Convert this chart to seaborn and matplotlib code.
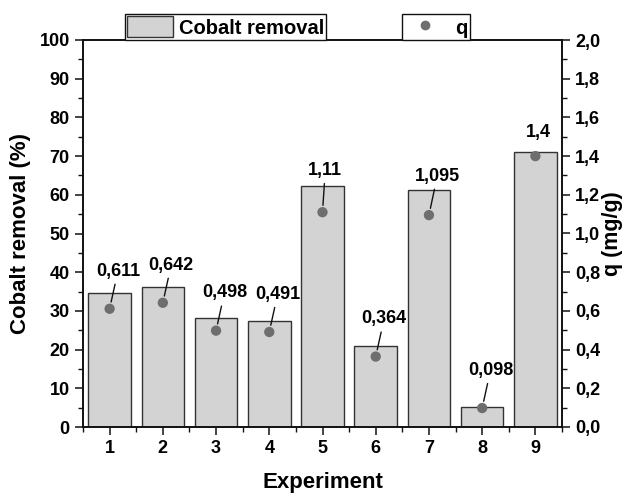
import matplotlib
matplotlib.use("Agg")
import matplotlib.pyplot as plt
import seaborn as sns
import pandas as pd
from matplotlib.ticker import MultipleLocator, FuncFormatter
from matplotlib.patches import Patch
from matplotlib.lines import Line2D

experiments = [1, 2, 3, 4, 5, 6, 7, 8, 9]
cobalt_removal = [34.7, 36.2, 28.1, 27.4, 62.2, 20.9, 61.2, 5.2, 71.0]
q_values = [0.611, 0.642, 0.498, 0.491, 1.11, 0.364, 1.095, 0.098, 1.4]
q_labels = ["0,611", "0,642", "0,498", "0,491", "1,11", "0,364", "1,095", "0,098", "1,4"]

df = pd.DataFrame({"Experiment": experiments, "removal": cobalt_removal, "q": q_values})

sns.set_style("ticks")
plt.rcParams['font.family'] = ['Liberation Sans', 'DejaVu Sans']
plt.rcParams['font.weight'] = 'bold'
plt.rcParams['text.color'] = 'black'
plt.rcParams['axes.labelcolor'] = 'black'
plt.rcParams['xtick.color'] = 'black'
plt.rcParams['ytick.color'] = 'black'

fig = plt.figure(figsize=(6.25, 4.95), dpi=100)
ax = fig.add_axes([83/625, 1-427/495, (562-83)/625, (427-40)/495])

bar_color = "#d3d3d3"
edge_color = "#333333"
pt_color = "#6e6e6e"

sns.barplot(data=df, x="Experiment", y="removal", native_scale=True, ax=ax,
            color=bar_color, edgecolor=edge_color, linewidth=1.0, width=0.8,
            saturation=1)
for p in ax.patches:
    p.set_facecolor(bar_color)

ax.set_xlim(0.5, 9.5)
ax.set_ylim(0, 100)
ax.xaxis.set_major_locator(MultipleLocator(1))
ax.xaxis.set_minor_locator(MultipleLocator(0.5))
ax.yaxis.set_major_locator(MultipleLocator(10))
ax.yaxis.set_minor_locator(MultipleLocator(5))

ax2 = ax.twinx()
sns.scatterplot(data=df, x="Experiment", y="q", ax=ax2, color=pt_color, s=55,
                edgecolor="none", zorder=5)
ax2.set_ylim(0, 2.0)
ax2.yaxis.set_major_locator(MultipleLocator(0.2))
ax2.yaxis.set_minor_locator(MultipleLocator(0.1))
ax2.yaxis.set_major_formatter(FuncFormatter(lambda v, _: f"{v:.1f}".replace(".", ",")))
ax.yaxis.set_major_formatter(FuncFormatter(lambda v, _: f"{v:.0f}"))

fs = 13
for a in (ax, ax2):
    a.tick_params(which="major", direction="out", length=6, width=1.1, labelsize=fs,
                  color="#111111", labelcolor="black", pad=3.5)
    a.tick_params(which="minor", direction="out", length=3.5, width=1.0, color="#111111")
    for s in a.spines.values():
        s.set_linewidth(1.2)
        s.set_color("#111111")
    for lbl in a.get_xticklabels() + a.get_yticklabels():
        lbl.set_fontweight("bold")

ax.set_xlabel("Experiment", fontsize=16, fontweight="bold", labelpad=11, color="black")
ax.set_ylabel("Cobalt removal (%)", fontsize=16, fontweight="bold", labelpad=6, color="black")
ax2.set_ylabel("q (mg/g)", fontsize=15.5, fontweight="bold", labelpad=1, color="black")
ax2.set_xlabel("")

# annotations (offsets in points)
offsets = [(6, 21), (6, 21), (6, 21), (6, 21), (2, 24), (6, 21), (6, 22), (6, 21), (2, 11)]
for x, q, lab, (dx, dy) in zip(experiments, q_values, q_labels, offsets):
    arrow = dict(arrowstyle="-", color="#111111", lw=1.0, shrinkA=1, shrinkB=5) if dy > 15 else None
    ax2.annotate(lab, xy=(x, q), xytext=(dx, dy), textcoords="offset points",
                 ha="center", va="bottom", fontsize=13, fontweight="bold",
                 color="black", arrowprops=arrow)

# legends
lfs = 14.5
h1 = [Patch(facecolor=bar_color, edgecolor=edge_color, linewidth=1.0)]
leg1 = ax2.legend(h1, ["Cobalt removal"], loc="lower left", bbox_to_anchor=(0.0877, 1.0),
                  borderaxespad=0, fancybox=False, edgecolor="#111111", framealpha=1,
                  handlelength=2.25, handleheight=1.2, borderpad=0.12, handletextpad=0.3,
                  prop={"weight": "bold", "size": lfs})
leg1.get_frame().set_linewidth(1.0)
ax2.add_artist(leg1)
h2 = [Line2D([], [], marker="o", color=pt_color, linestyle="none", markersize=6)]
leg2 = ax2.legend(h2, ["q"], loc="lower left", bbox_to_anchor=(0.666, 1.0),
                  borderaxespad=0, fancybox=False, edgecolor="#111111", framealpha=1,
                  handlelength=2.0, handleheight=1.2, borderpad=0.12, handletextpad=0.5,
                  prop={"weight": "bold", "size": lfs})
leg2.get_frame().set_linewidth(1.0)

fig.savefig("out.png", dpi=100)
